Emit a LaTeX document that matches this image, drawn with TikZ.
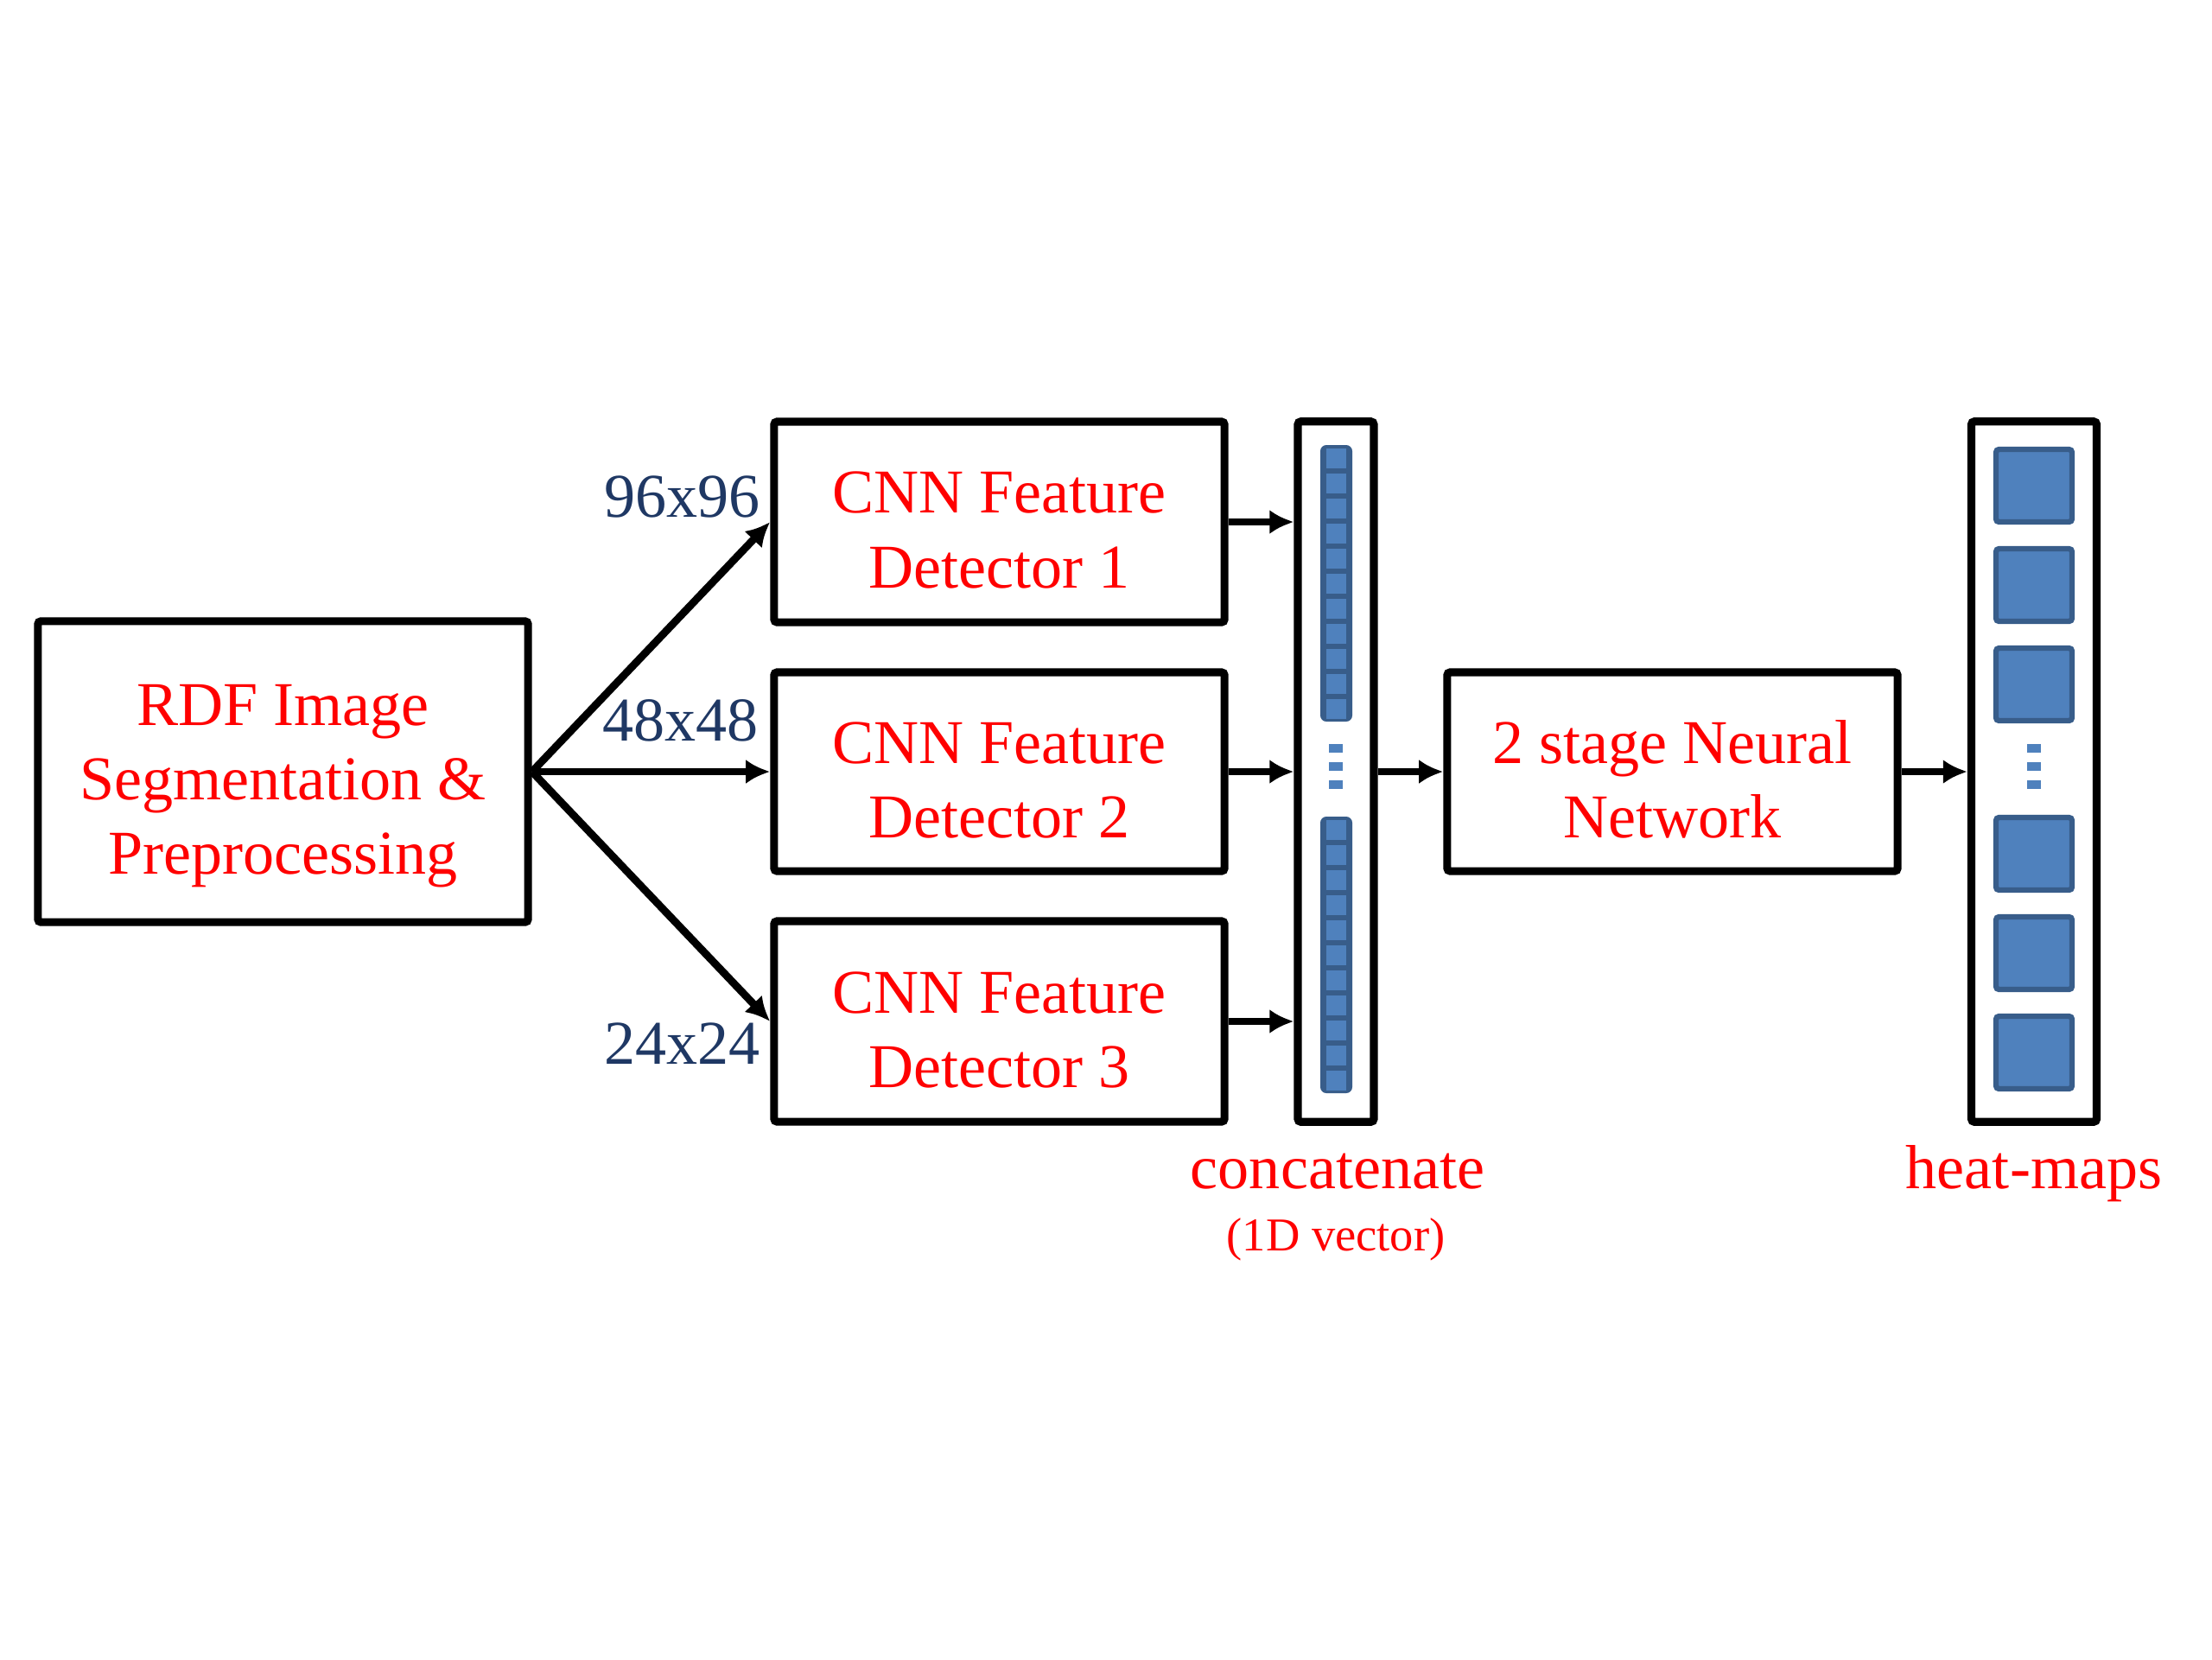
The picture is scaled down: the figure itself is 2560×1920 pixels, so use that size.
\documentclass[tikz,border=0pt]{standalone}
\usepackage{fontspec}
\setmainfont{Liberation Serif}
\usetikzlibrary{arrows.meta}
\definecolor{lblred}{RGB}{255, 0, 0}
\definecolor{lblblue}{RGB}{31, 56, 100}
\definecolor{cellfill}{RGB}{79, 129, 189}
\definecolor{celldraw}{RGB}{56, 93, 138}
\newcommand{\lowstrut}[1]{\rule{0pt}{#1}}

\begin{document}
\begin{tikzpicture}[x=0.01cm, y=-0.01cm,
  box/.style={draw=black, line width=2.6pt, rounded corners=1pt, inner sep=0pt, align=center, text=lblred, font=\fontsize{20.5}{24.5}\selectfont},
  vecbox/.style={draw=black, line width=2.6pt, rounded corners=1pt, inner sep=0pt, minimum width=0.88cm, minimum height=8.1cm},
  conn/.style={line width=2.5pt, -{Latex[length=8pt, width=8pt]}},
  sizelbl/.style={text=lblblue, anchor=east, inner sep=0pt, font=\fontsize{20.5}{24.5}\selectfont},
  caplbl/.style={text=lblred, anchor=base, inner sep=0pt, font=\fontsize{20.5}{24.5}\selectfont},
  heatcell/.style={fill=cellfill, draw=celldraw, line width=1.8pt, rounded corners=1pt},
  dotmark/.style={fill=cellfill}]
\useasboundingbox (0, 0) rectangle (2560, 1920);
\node (rdf) [box, minimum width=5.67cm, minimum height=3.48cm] at (327.5, 893) {\lowstrut{23pt}RDF Image\\Segmentation \&\\Preprocessing};
\node (cnn1) [box, minimum width=5.21cm, minimum height=2.32cm] at (1156.5, 604) {\lowstrut{19pt}CNN Feature\\Detector 1};
\node (cnn2) [box, minimum width=5.21cm, minimum height=2.30cm] at (1156.5, 893) {\lowstrut{19pt}CNN Feature\\Detector 2};
\node (cnn3) [box, minimum width=5.21cm, minimum height=2.32cm] at (1156.5, 1182) {\lowstrut{19pt}CNN Feature\\Detector 3};
\node (concat) [vecbox] at (1546, 893) {};
\node (neural) [box, minimum width=5.21cm, minimum height=2.30cm] at (1935.5, 893) {\lowstrut{19pt}2 stage Neural\\Network};
\node (heat) [vecbox, minimum width=1.45cm] at (2354, 893) {};
% 1D vector cells
\fill [celldraw, rounded corners=2pt] (1528, 515) rectangle (1565, 835);
\fill [celldraw, rounded corners=2pt] (1528, 945) rectangle (1565, 1265);
\foreach \i in {0,...,10} {
  \fill [cellfill] (1535, {519+29*\i}) rectangle (1558, {542+29*\i});
  \fill [cellfill] (1535, {949+29*\i}) rectangle (1558, {972+29*\i});
}
\foreach \y in {866, 887, 908} {
  \fill [dotmark] (1538, {\y-5}) rectangle (1554, {\y+5});
  \fill [dotmark] (2346, {\y-5}) rectangle (2362, {\y+5});
}
% heat-map squares
\foreach \i in {0,...,2} {
  \draw [heatcell] (2310, {520+115*\i}) rectangle (2398, {604+115*\i});
  \draw [heatcell] (2310, {946+115*\i}) rectangle (2398, {1030+115*\i});
}
\draw [conn] (rdf.east) to (cnn1.west);
\draw [conn] (rdf.east) to (cnn2.west);
\draw [conn] (rdf.east) to (cnn3.west);
\draw [conn] (cnn1.east) to (cnn1.east -| concat.west);
\draw [conn] (cnn2.east) to (cnn2.east -| concat.west);
\draw [conn] (cnn3.east) to (cnn3.east -| concat.west);
\draw [conn] (concat.east) to (neural.west);
\draw [conn] (neural.east) to (heat.west);
\node (lbl96) [sizelbl] at (880, 575) {96x96};
\node (lbl48) [sizelbl] at (878, 834) {48x48};
\node (lbl24) [sizelbl] at (880, 1208) {24x24};
\node (concattxt) [caplbl] at (1548, 1375) {concatenate};
\node (vectortxt) [caplbl, font=\fontsize{15.5}{18}\selectfont] at (1546, 1447) {(1D vector)};
\node (heattxt) [caplbl] at (2354, 1375) {heat-maps};
\end{tikzpicture}
\end{document}
